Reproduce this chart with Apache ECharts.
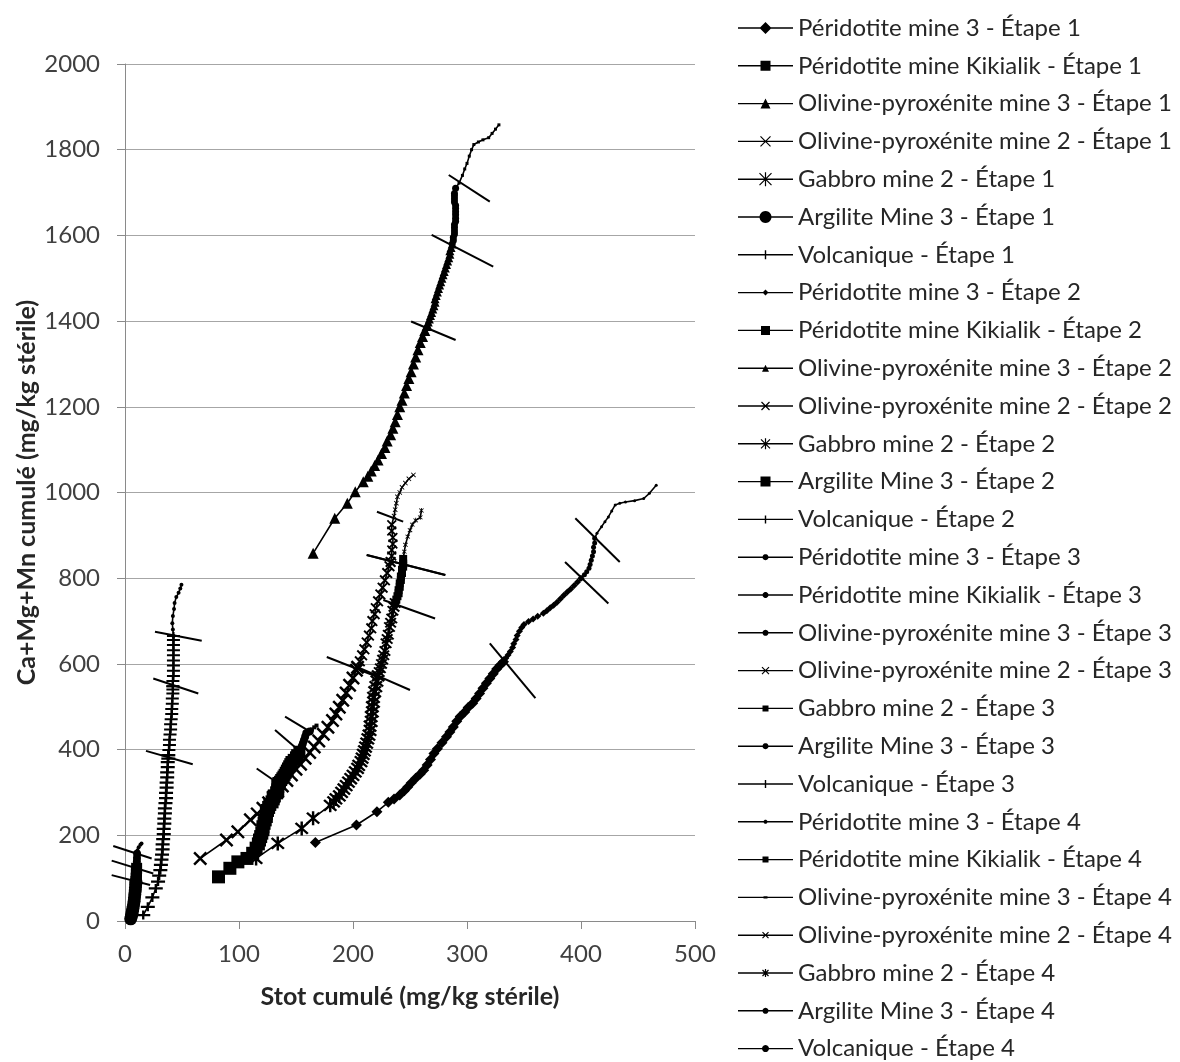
<!DOCTYPE html>
<html>
<head>
<meta charset="utf-8">
<title>Ca+Mg+Mn cumulé vs Stot cumulé</title>
<script src="https://cdn.jsdelivr.net/npm/echarts@6/dist/echarts.min.js"></script>
<style>
html, body { margin: 0; padding: 0; background: #fff; }
#main { width: 1180px; height: 1062px; }
</style>
</head>
<body>
<div id="main"></div>
<script>
var stages = ['Étape 1', 'Étape 2', 'Étape 3', 'Étape 4'];
var rockNames = ['Péridotite mine 3', 'Péridotite mine Kikialik', 'Olivine-pyroxénite mine 3',
	'Olivine-pyroxénite mine 2', 'Gabbro mine 2', 'Argilite Mine 3', 'Volcanique'];

var pm3E1 = [[167,183],[203,224],[221,255],[231,277],[236,285],[241,294],[245,304],[248,313],[251,322],[255,333],[259,343],[262,352],[265,364],[268,377],[271,391],[274,402],[278,416],[282,430],[285,441],[288,453],[291,466],[294,477],[298,488],[301,498],[305,508],[308,519],[311,531],[314,543],[317,555],[320,566],[323,577],[326,588],[329,597],[332,605]];
var pm3E2 = [[332,605],[334,613],[336,621],[338,629],[340,638],[341,647],[343,657],[344,666],[346,676],[348,685],[350,692],[354,699],[358,705],[362,711],[367,718],[370,724],[373,731],[376,737],[379,744],[382,752],[385,760],[388,768],[391,775],[394,783],[397,791],[400,800]];
var pm3E3 = [[400,800],[403,808],[405,815],[407,823],[408,832],[409,842],[410,852],[411,862],[411,872],[412,882],[412,893]];
var pm3E4 = [[412,893],[414,905],[418,920],[421,932],[424,943],[427,957],[430,971],[434,975],[439,978],[447,981],[455,986],[460,998],[466,1017]];
var pm3Cuts = [[[320,648],[360,520]], [[386,838],[424,741]], [[395,940],[434,838]]];

var kikE1 = [[82,103],[92,123],[99,138],[107,146],[112,158],[115,170],[117,180],[118,189],[119,197],[120,205],[121,213],[121,220],[122,228],[123,236],[124,244],[124,251],[125,258],[126,265],[127,272],[129,278],[130,285],[131,292],[133,299],[134,306],[134,314],[135,321]];
var kikE2 = [[135,321],[136,325],[137,329],[138,333],[139,337],[140,341],[141,346],[142,351],[143,356],[144,361],[145,366],[146,371],[148,376],[150,382],[151,387],[153,395]];
var kikE3 = [[153,395],[155,407],[156,414],[157,422],[158,430],[159,438],[162,442]];
var kikE4 = [[162,442],[164,447],[166,452],[168,456]];
var kikCuts = [[[115.5,356],[134.5,321]], [[131.6,446],[152,399]], [[140.4,477],[162.3,442]]];

var opm3E1 = [[165,858],[184,940],[195,975],[202,1002],[209,1025],[213,1038],[216,1050],[219,1063],[222,1076],[225,1091],[228,1105],[230,1120],[233,1135],[235,1150],[237,1165],[239,1182],[241,1200],[243,1215],[245,1232],[247,1250],[249,1266],[251,1282],[253,1300],[255,1316],[257,1333],[259,1350],[261,1364],[263,1378],[265,1390]];
var opm3E2 = [[265,1390],[266,1398],[267,1405],[268,1413],[269,1420],[270,1428],[271,1436],[272,1444],[272,1452],[273,1460],[274,1468],[275,1476],[276,1484],[277,1492],[278,1500],[279,1508],[280,1516],[281,1524],[282,1532],[283,1540],[284,1548],[285,1556],[285,1564],[286,1572],[287,1580]];
var opm3E3 = [[287,1580],[288,1588],[288,1595],[289,1603],[289,1610],[289,1618],[289,1625],[290,1633],[290,1640],[290,1648],[290,1655],[290,1663],[290,1670],[289,1678],[289,1685],[289,1692],[289,1698],[290,1710]];
var opm3E4 = [[290,1710],[293,1722],[296,1740],[298,1755],[300,1768],[302,1785],[304,1800],[306,1812],[310,1818],[314,1823],[319,1828],[322,1838],[325,1848],[328,1858]];
var opm3Cuts = [[[251,1399],[290,1356]], [[269,1601],[323,1527]], [[284,1741],[320,1679]]];

var op2E1 = [[66,146],[89,189],[99,208],[110,236],[116,250],[121,263],[126,276],[130,289],[134,302],[138,315],[142,328],[146,341],[150,354],[154,366],[158,380],[162,393],[166,406],[170,420],[174,436],[178,452],[182,468],[185,483],[188,499],[191,515],[194,532],[197,550],[200,567],[203,585],[204,592]];
var op2E2 = [[204,592],[206,606],[208,620],[210,634],[212,650],[214,666],[216,683],[217,700],[219,716],[220,730],[222,746],[224,762],[226,778],[228,795],[230,812],[232,828],[233,838]];
var op2E3 = [[233,838],[234,852],[234,866],[235,880],[235,895],[234,910],[234,925]];
var op2E4 = [[234,925],[236,945],[237,960],[238,975],[239,990],[241,1000],[243,1012],[246,1022],[249,1032],[253,1041]];
var op2Cuts = [[[177,616],[224,567]], [[212,854],[281,807.5]], [[221,955],[244,932]]];

var gabE1 = [[115,146],[134,181],[155,216],[165,240],[180,270],[183,278],[185,285],[188,292],[190,300],[192,308],[194,316],[196,324],[198,332],[200,340],[202,348],[204,356],[205,363],[207,372],[208,380],[209,389],[210,397],[211,406],[212,415],[213,425],[214,434],[215,445],[215,455],[216,466],[216,477],[217,488],[217,500],[218,511],[218,522],[219,535],[220,547],[221,560],[222,572]];
var gabE2 = [[222,572],[223,581],[224,590],[225,600],[226,610],[227,620],[228,630],[229,648],[230,658],[231,668],[232,686],[233,696],[234,706],[235,724],[236,733],[237,742]];
var gabE3 = [[237,742],[238,750],[239,758],[240,765],[240,772],[241,780],[241,788],[242,796],[242,804],[243,812],[243,820],[244,827],[244,834],[244,845]];
var gabE4 = [[244,845],[245,862],[246,878],[248,897],[250,912],[252,925],[255,935],[259,942],[260,958]];
var gabCuts = [[[202,595],[250,539]], [[226.6,749],[272,706]], [[212,854],[281,807.5]]];

var argE1 = [[5,5],[5.5,10],[6,16],[6.5,23],[7,30],[7.5,38],[8,46],[8.3,54],[8.6,62],[9,70],[9.2,78],[9.4,86],[9.6,92]];
var argE2 = [[9.6,92],[9.8,100],[10,108],[10,116],[10.2,123]];
var argE3 = [[10.2,123],[10.3,131],[10.4,139],[10.5,147],[10.6,157]];
var argE4 = [[10.6,157],[11,165],[12,172],[13.5,178],[14.5,181]];
var argCuts = [[[-11.7,107],[22,84]], [[-11.7,141],[24.8,111]], [[-10.3,175],[23.4,146]]];

var volE1 = [[16,14],[20,33],[24,55],[27,76],[29,92],[30,106],[31,119],[31.5,131],[32,143],[32.5,155],[33,167],[33,179],[33.5,191],[34,203],[34,215],[34.5,227],[34.5,239],[35,251],[35,263],[35.5,275],[36,287],[36,299],[36.5,311],[36.5,323],[37,335],[37,347],[37.5,359],[37.5,371],[38,379],[38,387]];
var volE2 = [[38,387],[38.5,399],[39,411],[39,423],[39.5,435],[40,447],[40,459],[40.5,471],[41,483],[41,495],[41.5,507],[41.5,519],[42,531],[42,540],[42,548]];
var volE3 = [[42,548],[42,560],[42.5,572],[42.5,584],[42.5,596],[42.5,608],[42.5,620],[42.5,632],[42.5,644],[42.5,656],[42.5,665]];
var volE4 = [[42.5,665],[42,680],[41.5,695],[42,712],[43,728],[43.5,742],[45,756],[47,766],[48.5,776],[49.5,785]];
var volCuts = [[[18.4,397],[59.4,366]], [[24.8,566],[64.3,531]], [[26.3,675],[67.3,654]]];

var rockData = [
	[pm3E1, pm3E2, pm3E3, pm3E4],
	[kikE1, kikE2, kikE3, kikE4],
	[opm3E1, opm3E2, opm3E3, opm3E4],
	[op2E1, op2E2, op2E3, op2E4],
	[gabE1, gabE2, gabE3, gabE4],
	[argE1, argE2, argE3, argE4],
	[volE1, volE2, volE3, volE4]
];
var rockCuts = [pm3Cuts, kikCuts, opm3Cuts, op2Cuts, gabCuts, argCuts, volCuts];

// marker per stage and rock: [symbol, size, legend shape, legend size]
var marks = [
	[['diamond',11,'diamond',12], ['rect',13,'square',10], ['triangle',11,'triangle',10], ['x',14,'x',10], ['star',14,'star',12], ['circle',13,'circle',12], ['plus',[14,9],'vbar',9]],
	[['diamond',7,'diamond',6], ['rect',12,'square',9], ['triangle',9,'triangle',7], ['x',11,'x',8], ['star',12,'star',9], ['rect',11,'square',10], ['plus',[13,8],'vbar',8]],
	[['circle',5,'circle',6], ['circle',8,'circle',6], ['circle',7,'circle',6], ['x',10,'x',7], ['rect',8,'square',6], ['circle',8,'circle',6], ['plus',[13,8],'vbar',8]],
	[['circle',3,'circle',4], ['rect',4,'square',6], ['rect',3,'dash',4], ['x',5,'x',6], ['star',5,'star',6], ['circle',4,'circle',6], ['circle',4,'circle',7]]
];

// --- shape helpers (all sub-paths clockwise so overlaps stay filled)
function poly(pts) {
	var a = 0;
	for (var i = 0; i < pts.length; i++) {
		var p = pts[i], q = pts[(i + 1) % pts.length];
		a += p[0] * q[1] - q[0] * p[1];
	}
	if (a < 0) pts = pts.slice().reverse();
	return 'M' + pts.map(function(p) {
		return p[0].toFixed(2) + ',' + p[1].toFixed(2);
	}).join('L') + 'Z';
}
function bar(x1, y1, x2, y2, t) {
	var dx = x2 - x1, dy = y2 - y1, l = Math.sqrt(dx * dx + dy * dy);
	var nx = -dy / l * t, ny = dx / l * t;
	return poly([[x1 + nx, y1 + ny], [x2 + nx, y2 + ny], [x2 - nx, y2 - ny], [x1 - nx, y1 - ny]]);
}
function shape(kind, cx, cy, s) {
	var h = s / 2;
	if (kind == 'diamond') return poly([[cx, cy - h], [cx + h, cy], [cx, cy + h], [cx - h, cy]]);
	if (kind == 'square') return poly([[cx - h, cy - h], [cx + h, cy - h], [cx + h, cy + h], [cx - h, cy + h]]);
	if (kind == 'triangle') return poly([[cx, cy - h], [cx + h, cy + h], [cx - h, cy + h]]);
	if (kind == 'dash') return poly([[cx - h, cy - 1.2], [cx + h, cy - 1.2], [cx + h, cy + 1.2], [cx - h, cy + 1.2]]);
	if (kind == 'circle') {
		var pts = [];
		for (var i = 0; i < 24; i++) {
			var a = i / 24 * Math.PI * 2;
			pts.push([cx + h * Math.cos(a), cy + h * Math.sin(a)]);
		}
		return poly(pts);
	}
	var x = bar(cx - h, cy - h, cx + h, cy + h, 0.6) + bar(cx + h, cy - h, cx - h, cy + h, 0.6);
	if (kind == 'x') return x;
	if (kind == 'star') return x + bar(cx, cy - h - 1, cx, cy + h + 1, 0.6);
	if (kind == 'vbar') return bar(cx, cy - h, cx, cy + h, 0.7);
	return '';
}
var symPath = {
	x: 'path://' + bar(0, 0, 10, 10, 1.0) + bar(10, 0, 0, 10, 1.0),
	star: 'path://' + bar(0, 0, 10, 10, 1.0) + bar(10, 0, 0, 10, 1.0) + bar(5, -1.5, 5, 11.5, 1.0),
	plus: 'path://' + bar(0, 5, 12, 5, 1.0) + bar(6, 1, 6, 9, 1.0)
};
function legendIcon(kind, s) {
	var p = poly([[0, 0], [0.1, 0], [0.1, 0.1], [0, 0.1]]) +
		poly([[54.9, 13.9], [55, 13.9], [55, 14], [54.9, 14]]) +
		poly([[0, 6.3], [55, 6.3], [55, 7.7], [0, 7.7]]);
	return 'path://' + p + shape(kind, 27.5, 7, s);
}

var FONT = 'Lato, "Open Sans", sans-serif';
var series = [];
var legendData = [];
for (var s = 0; s < 4; s++) {
	for (var r = 0; r < rockNames.length; r++) {
		var m = marks[s][r];
		var name = rockNames[r] + ' - ' + stages[s];
		series.push({
			type: 'line',
			name: name,
			data: rockData[r][s],
			symbol: symPath[m[0]] || m[0],
			symbolSize: m[1],
			lineStyle: { color: '#000', width: 1.6 },
			itemStyle: { color: '#000', borderWidth: 0 },
			emphasis: { disabled: true },
			z: 3
		});
		legendData.push({ name: name, icon: legendIcon(m[2], m[3]) });
	}
}
// stage boundary strokes
var cutData = [];
for (var r = 0; r < rockCuts.length; r++) {
	for (var k = 0; k < rockCuts[r].length; k++) {
		cutData.push({ coords: rockCuts[r][k] });
	}
}
series.push({
	type: 'lines',
	name: 'limites',
	coordinateSystem: 'cartesian2d',
	data: cutData,
	clip: false,
	silent: true,
	lineStyle: { color: '#000', width: 2, opacity: 1 },
	z: 4
});

function plain(v) { return String(v); }

var chart = echarts.init(document.getElementById('main'));
chart.setOption({
	animation: false,
	backgroundColor: '#fff',
	grid: { left: 125, right: 485, top: 64, bottom: 141, containLabel: false, outerBoundsMode: 'none' },
	legend: {
		orient: 'vertical',
		left: 738,
		top: 16,
		padding: 0,
		itemWidth: 55,
		itemHeight: 14,
		itemGap: 13.8,
		selectedMode: false,
		itemStyle: { borderWidth: 0 },
		textStyle: { fontFamily: FONT, fontSize: 24, color: '#262626', lineHeight: 24 },
		data: legendData
	},
	xAxis: {
		type: 'value', min: 0, max: 500, interval: 100,
		axisLine: { show: true, onZero: false, lineStyle: { color: '#8a8a8a', width: 1 } },
		axisTick: { show: true, length: 8, lineStyle: { color: '#8a8a8a' } },
		splitLine: { show: false },
		axisLabel: { fontFamily: FONT, fontSize: 24, color: '#404040', margin: 21, formatter: plain },
		name: 'Stot cumulé (mg/kg stérile)',
		nameLocation: 'middle',
		nameGap: 63,
		nameTextStyle: { fontFamily: FONT, fontSize: 25, fontWeight: 'bold', color: '#262626' }
	},
	yAxis: {
		type: 'value', min: 0, max: 2000, interval: 200,
		axisLine: { show: true, lineStyle: { color: '#8a8a8a', width: 1 } },
		axisTick: { show: true, length: 8, lineStyle: { color: '#8a8a8a' } },
		splitLine: { show: true, lineStyle: { color: '#a6a6a6', width: 1 } },
		axisLabel: { fontFamily: FONT, fontSize: 24, color: '#404040', margin: 25, formatter: plain },
		name: 'Ca+Mg+Mn cumulé (mg/kg stérile)',
		nameLocation: 'middle',
		nameGap: 86,
		nameRotate: 90,
		nameTextStyle: { fontFamily: FONT, fontSize: 25, fontWeight: 'bold', color: '#262626' }
	},
	series: series
});
</script>
</body>
</html>
